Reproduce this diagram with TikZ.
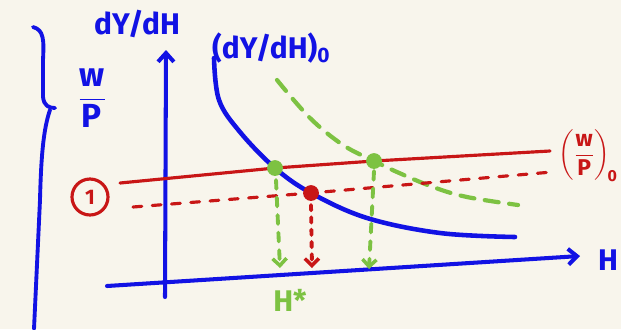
\documentclass[tikz,border=0pt]{standalone}
\usepackage{amsmath}
\usepackage{fontspec}
\setmainfont{Fira Sans}
\usetikzlibrary{arrows.meta,calc}
\definecolor{papier}{HTML}{F8F5EC}
\definecolor{stift}{HTML}{1212E4}
\definecolor{rot}{HTML}{C81616}
\definecolor{gruen}{HTML}{7DC242}

\begin{document}
\begin{tikzpicture}[x=0.02cm,y=-0.02cm,line cap=round,line join=round,
  achse/.style={stift,line width=2.3pt,-{Straight Barb[length=5pt,width=9pt,line width=2.3pt]}},
  lohn/.style={rot,line width=1.8pt},
  fall/.style={line width=2.2pt,dash pattern=on 5pt off 5pt,-{Straight Barb[length=4pt,width=8pt,line width=2pt]}},
  punkt/.style={circle,fill,inner sep=0pt,minimum size=9pt},
  schrift/.style={font=\fontsize{17}{19}\selectfont\bfseries}]
\fill[papier] (0,0) rectangle (621,329);
\useasboundingbox (0,0) rectangle (621,329);

\coordinate (ya) at (165,297);
\coordinate (ye) at (166,50);
\coordinate (xa) at (107,286);
\coordinate (xe) at (580,256);
\draw[achse] (ya) -- (ye);
\draw[achse] (xa) -- (xe);
\node[schrift,stift] (ylab) at (137,24) {dY/dH};
\node[schrift,stift,font=\fontsize{19}{21}\selectfont\bfseries] (wp) at (92,98) {$\dfrac{\text{w}}{\text{P}}$};
\node[schrift,stift,anchor=west] (xlab) at (592,260) {H};

% Klammer links
\draw[stift,line width=2.2pt] (33,27) .. controls (44,30) and (44,40) .. (43,60)
  -- (43,97) .. controls (44,106) and (49,108) .. (55,108);
\draw[stift,line width=2.2pt] (50,110) .. controls (43,130) and (41,160) .. (40,200) -- (34,329);

\coordinate (g1) at (275,168);
\coordinate (g2) at (374,161);
\coordinate (r0) at (311,193);

\draw[stift,line width=2.6pt] plot[smooth,tension=0.6] coordinates
  {(214,58) (219,100) (240,132) (g1) (r0) (367,218) (440,233) (515,237)};
\node[schrift,stift,anchor=west] (mpl) at (206,48) {(dY/dH)$_{\text{0}}$};

\draw[gruen,line width=2.4pt,dash pattern=on 8pt off 6pt] plot[smooth,tension=0.6] coordinates
  {(277,80) (310,118) (343,145) (g2) (397,172) (433,187) (467,197) (518,205)};

\coordinate (wl) at (120,183);
\coordinate (wr) at (550,151);
\draw[lohn] (wl) -- (g1) -- (g2) -- (wr);
\coordinate (dl) at (133,207);
\coordinate (dr) at (552,172);
\draw[lohn,dash pattern=on 5pt off 6pt] (dl) -- (r0) -- (dr);
\node[rot,anchor=east,inner sep=1pt,font=\fontsize{13}{15}\selectfont\bfseries] (wp0) at (620,156) {$\left(\dfrac{\text{w}}{\text{P}}\right)_{\!\text{0}}$};
\node[circle,draw=rot,line width=1.8pt,text=rot,minimum size=0.72cm,inner sep=0pt,font=\bfseries\large] (eins) at (90,197) {1};

\coordinate (f1) at (280,268);
\coordinate (f2) at (312,268);
\coordinate (f3) at (369,269);
\draw[fall,gruen] ($(g1)+(1,12)$) -- (f1);
\draw[fall,rot,dash pattern=on 3pt off 4pt] ($(r0)+(0,12)$) -- (f2);
\draw[fall,gruen] ($(g2)+(0,10)$) -- (f3);

\node[punkt,gruen] (p1) at (g1) {};
\node[punkt,gruen] (p2) at (g2) {};
\node[punkt,rot] (p3) at (r0) {};
\node[schrift,gruen] (hs) at (290,300) {H*};
\end{tikzpicture}
\end{document}
